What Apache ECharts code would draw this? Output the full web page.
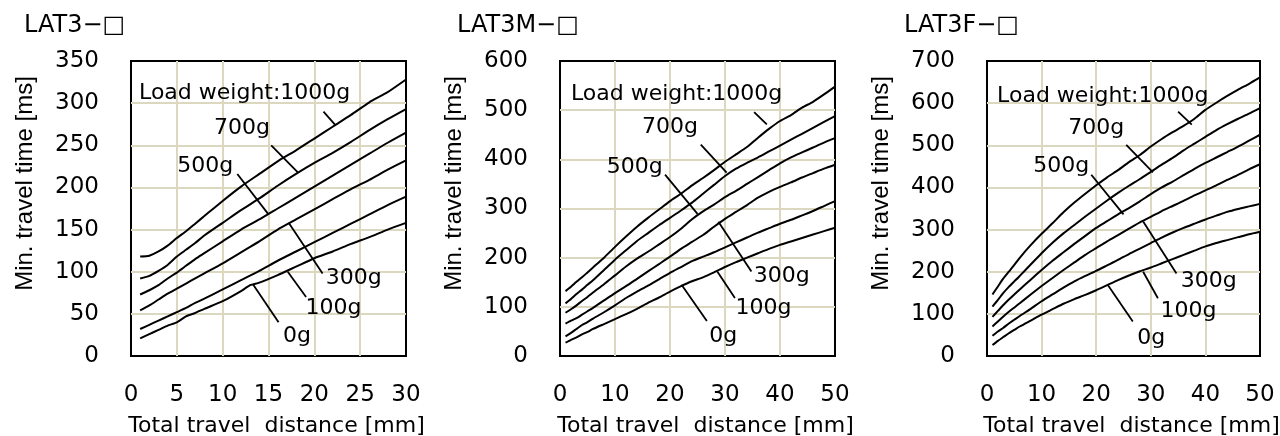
<!DOCTYPE html>
<html><head><meta charset="utf-8">
<script src="https://cdn.jsdelivr.net/npm/echarts@6.0.0/dist/echarts.min.js"></script>
<style>html,body{margin:0;padding:0;background:#fff}#c{width:1280px;height:436px}</style>
</head><body><div id="c"></div><script>
// ---------- data ----------
const weights = ['1000g', '700g', '500g', '300g', '100g', '0g'];
const panelTitles = ['LAT3−□', 'LAT3M−□', 'LAT3F−□'];
const xTicks1 = [0, 5, 10, 15, 20, 25, 30];
const xTicks23 = [0, 10, 20, 30, 40, 50];

// LAT3 : [distance mm, time ms]
const lat3_1000 = [[1,118],[2,119],[3,124],[4,131],[5,140],[6,148],[7,157],[8,166],[10,184],[12,201],[14,216],[16,231],[18,244],[20,258],[22,272],[24,286],[26,301],[28,313],[30,328]];
const lat3_700 = [[1,92],[2,95],[3,101],[4,108],[5,118],[6,126],[7,134],[8,143],[10,158],[12,173],[14,187],[16,202],[18,216],[20,229],[22,241],[24,254],[26,268],[28,281],[30,293]];
const lat3_500 = [[1,73],[2,78],[3,84],[4,92],[5,99],[6,107],[7,115],[8,122],[10,136],[12,150],[14,162],[16,175],[18,188],[20,201],[22,214],[24,227],[26,240],[28,253],[30,265]];
const lat3_300 = [[1,54],[2,60],[3,67],[4,74],[5,80],[6,86],[7,92],[8,98],[10,110],[12,123],[14,136],[16,150],[18,162],[20,174],[22,186],[24,198],[26,209],[28,221],[30,232]];
const lat3_100 = [[1,32],[2,37],[3,42],[4,47],[5,52],[6,57],[7,63],[8,68],[10,79],[12,90],[14,101],[16,113],[18,124],[20,135],[22,146],[24,157],[26,168],[28,179],[30,189]];
const lat3_0 = [[1,21],[2,26],[3,31],[4,36],[5,40],[6,47],[7,51],[8,56],[10,65],[12,77],[13,84],[14,87],[16,96],[18,106],[20,116],[22,124],[24,133],[26,141],[28,150],[30,158]];

// LAT3M
const lat3m_1000 = [[1,132],[2,141],[3,151],[4,160],[5,170],[6,180],[8,200],[10,222],[12,243],[14,263],[16,281],[18,298],[20,315],[22,330],[24,347],[26,362],[28,378],[30,395],[32,410],[34,425],[36,444],[38,462],[40,478],[42,490],[44,505],[46,517],[48,532],[50,548]];
const lat3m_700 = [[1,107],[2,116],[3,126],[4,135],[5,145],[6,154],[8,175],[10,196],[12,215],[14,234],[16,250],[18,266],[20,281],[22,296],[24,312],[26,330],[28,348],[30,366],[32,381],[34,393],[36,404],[38,416],[40,428],[42,440],[44,452],[46,464],[48,476],[50,488]];
const lat3m_500 = [[1,88],[2,95],[3,103],[4,112],[5,120],[6,129],[8,146],[10,164],[12,182],[14,198],[16,212],[18,227],[20,242],[22,259],[24,278],[26,294],[28,308],[30,323],[32,336],[34,350],[36,364],[38,378],[40,392],[42,404],[44,414],[46,424],[48,434],[50,443]];
const lat3m_300 = [[1,66],[2,72],[3,77],[4,84],[5,91],[6,98],[8,113],[10,128],[12,142],[14,157],[16,172],[18,187],[20,202],[22,218],[24,232],[26,246],[28,263],[30,279],[32,293],[34,307],[36,322],[38,334],[40,344],[42,353],[44,363],[46,372],[48,381],[50,389]];
const lat3m_100 = [[1,40],[2,47],[3,55],[4,63],[5,69],[6,76],[8,89],[10,103],[12,118],[14,131],[16,143],[18,156],[20,169],[22,181],[24,193],[26,202],[28,211],[30,221],[32,231],[34,241],[36,251],[38,260],[40,269],[42,277],[44,286],[46,295],[48,305],[50,315]];
const lat3m_0 = [[1,27],[2,33],[3,38],[4,44],[5,49],[6,55],[8,65],[10,75],[12,85],[14,96],[16,108],[18,119],[20,131],[22,142],[24,152],[26,160],[28,170],[30,181],[32,191],[34,200],[36,209],[38,218],[40,226],[42,233],[44,240],[46,247],[48,254],[50,261]];

// LAT3F
const lat3f_1000 = [[1,146],[2,165],[3,184],[4,200],[5,216],[6,233],[8,263],[10,290],[12,315],[14,341],[16,364],[18,385],[20,405],[22,424],[24,441],[26,460],[28,477],[30,497],[32,515],[34,531],[36,546],[38,563],[40,584],[42,601],[44,617],[46,632],[48,646],[50,661]];
const lat3f_700 = [[1,117],[2,133],[3,150],[4,164],[5,177],[6,190],[8,217],[10,244],[12,269],[14,291],[16,311],[18,331],[20,350],[22,369],[24,387],[26,404],[28,420],[30,437],[32,454],[34,470],[36,488],[38,504],[40,520],[42,536],[44,550],[46,563],[48,575],[50,588]];
const lat3f_500 = [[1,93],[2,107],[3,121],[4,134],[5,146],[6,158],[8,181],[10,204],[12,226],[14,246],[16,266],[18,285],[20,304],[22,320],[24,336],[26,351],[28,367],[30,384],[32,400],[34,414],[36,429],[38,444],[40,458],[42,471],[44,484],[46,497],[48,511],[50,525]];
const lat3f_300 = [[1,70],[2,82],[3,94],[4,105],[5,115],[6,125],[8,146],[10,166],[12,185],[14,204],[16,222],[18,240],[20,256],[22,272],[24,287],[26,302],[28,317],[30,330],[32,344],[34,356],[36,368],[38,381],[40,393],[42,405],[44,418],[46,430],[48,443],[50,455]];
const lat3f_100 = [[1,48],[2,58],[3,67],[4,77],[5,86],[6,95],[8,112],[10,130],[12,146],[14,162],[16,177],[18,190],[20,202],[22,215],[24,228],[26,242],[28,255],[30,268],[32,281],[34,293],[36,304],[38,314],[40,324],[42,333],[44,342],[46,349],[48,355],[50,361]];
const lat3f_0 = [[1,26],[2,36],[3,45],[4,54],[5,62],[6,70],[8,84],[10,98],[12,111],[14,124],[16,135],[18,145],[20,156],[22,168],[24,180],[26,191],[28,201],[30,210],[32,220],[34,230],[36,240],[38,250],[40,260],[42,268],[44,275],[46,282],[48,289],[50,295]];

// annotation texts and their anchor points (data coordinates)
const labelTexts = ['Load weight:1000g', '700g', '500g', '300g', '100g', '0g'];
const lat3_labelAt = [[12.4,312],[12.1,270],[8.1,225],[24.3,92],[22.1,57],[18.1,23]];
const lat3m_labelAt = [[21.2,533],[20,465],[13.6,384],[40.3,162],[37,98],[29.7,40]];
const lat3f_labelAt = [[21.2,616],[20,541],[13.6,450],[40.6,177],[36.9,105],[30.1,42]];
// leader lines [[x1,y1],[x2,y2]] (data coordinates)
const lat3_leaders = [[[21.0,290],[22.3,274]],[[15.3,250],[18.2,218]],[[11.6,216],[15.0,168]],[[17.2,158],[20.9,98]],[[17.1,100],[19.1,70]],[[13.3,85],[16.1,40]]];
const lat3m_leaders = [[[35.3,496],[37.6,471]],[[25.6,430],[30.3,373]],[[19.1,369],[25,289]],[[28.8,273],[34.8,172]],[[28.6,172],[31.8,118]],[[22.1,145],[26.7,71]]];
const lat3f_leaders = [[[35,580],[37.5,549]],[[25.5,501],[30.4,436]],[[19.1,430],[25,336]],[[28.6,319],[34.7,196]],[[28.6,200],[31.3,137]],[[22.1,169],[26.7,82]]];

// ---------- build ----------
const FONT = "'DejaVu Sans', 'Noto Sans CJK JP', sans-serif";
const NAMEFONT = "'Liberation Sans', Arial, sans-serif";
const GRIDCOL = '#dcd7bf';

const panels = [
  {title: panelTitles[0], titleLeft: 19, grid: {left: 131, top: 61, width: 275, height: 295}, xMax: 30, xInt: 5, yMax: 350, yInt: 50,
   lines: [lat3_1000, lat3_700, lat3_500, lat3_300, lat3_100, lat3_0], labelAt: lat3_labelAt, leaders: lat3_leaders},
  {title: panelTitles[1], titleLeft: 452, grid: {left: 560, top: 61, width: 275, height: 295}, xMax: 50, xInt: 10, yMax: 600, yInt: 100,
   lines: [lat3m_1000, lat3m_700, lat3m_500, lat3m_300, lat3m_100, lat3m_0], labelAt: lat3m_labelAt, leaders: lat3m_leaders},
  {title: panelTitles[2], titleLeft: 899, grid: {left: 987, top: 61, width: 273, height: 295}, xMax: 50, xInt: 10, yMax: 700, yInt: 100,
   lines: [lat3f_1000, lat3f_700, lat3f_500, lat3f_300, lat3f_100, lat3f_0], labelAt: lat3f_labelAt, leaders: lat3f_leaders}
];

const option = {animation: false, backgroundColor: '#fff', title: [], grid: [], xAxis: [], yAxis: [], series: []};

panels.forEach((p, i) => {
  option.title.push({text: p.title, left: p.titleLeft, top: 9,
    textStyle: {fontFamily: FONT, fontSize: 24, fontWeight: 'normal', color: '#000'}});
  option.grid.push(Object.assign({show: true, borderColor: '#000', borderWidth: 2, backgroundColor: 'transparent',
    containLabel: false, outerBoundsMode: 'none'}, p.grid));
  option.xAxis.push({type: 'value', gridIndex: i, min: 0, max: p.xMax, interval: p.xInt,
    name: 'Total travel  distance [mm]', nameLocation: 'middle', nameGap: 59,
    nameTextStyle: {fontFamily: FONT, fontSize: 22, color: '#000', padding: [0, 0, 0, 16]},
    axisLine: {show: false}, axisTick: {show: false},
    axisLabel: {margin: 28, fontFamily: FONT, fontSize: 23, color: '#000'},
    splitLine: {show: true, showMinLine: false, showMaxLine: false, lineStyle: {color: GRIDCOL, width: 2}}});
  option.yAxis.push({type: 'value', gridIndex: i, min: 0, max: p.yMax, interval: p.yInt,
    name: 'Min. travel time [ms]', nameLocation: 'middle', nameGap: 94, nameRotate: 90,
    nameTextStyle: {fontFamily: NAMEFONT, fontSize: 24, color: '#000', padding: [0, 0, 0, 50]},
    axisLine: {show: false}, axisTick: {show: false},
    axisLabel: {margin: 32, fontFamily: FONT, fontSize: 23, color: '#000'},
    splitLine: {show: true, showMinLine: false, showMaxLine: false, lineStyle: {color: GRIDCOL, width: 2}}});
  p.lines.forEach((d, k) => {
    option.series.push({type: 'line', name: p.title + ' ' + weights[k], xAxisIndex: i, yAxisIndex: i,
      data: d, showSymbol: false, smooth: 0.2, silent: true, z: 5,
      lineStyle: {color: '#000', width: 2}});
  });
  option.series.push({type: 'lines', coordinateSystem: 'cartesian2d', xAxisIndex: i, yAxisIndex: i, silent: true, z: 5,
    data: p.leaders.map(c => ({coords: c})), lineStyle: {color: '#000', width: 1.8, opacity: 1, curveness: 0}});
  option.series.push({type: 'scatter', xAxisIndex: i, yAxisIndex: i, silent: true, z: 6, symbolSize: 1,
    itemStyle: {color: 'transparent'},
    data: p.labelAt.map((c, k) => ({name: labelTexts[k], value: c})),
    label: {show: true, position: 'inside', formatter: q => q.name, fontFamily: FONT, fontSize: 22,
      color: '#000', textBorderWidth: 0, opacity: 1}});
});

const chart = echarts.init(document.getElementById('c'), null, {renderer: 'canvas'});
chart.setOption(option);
</script></body></html>
